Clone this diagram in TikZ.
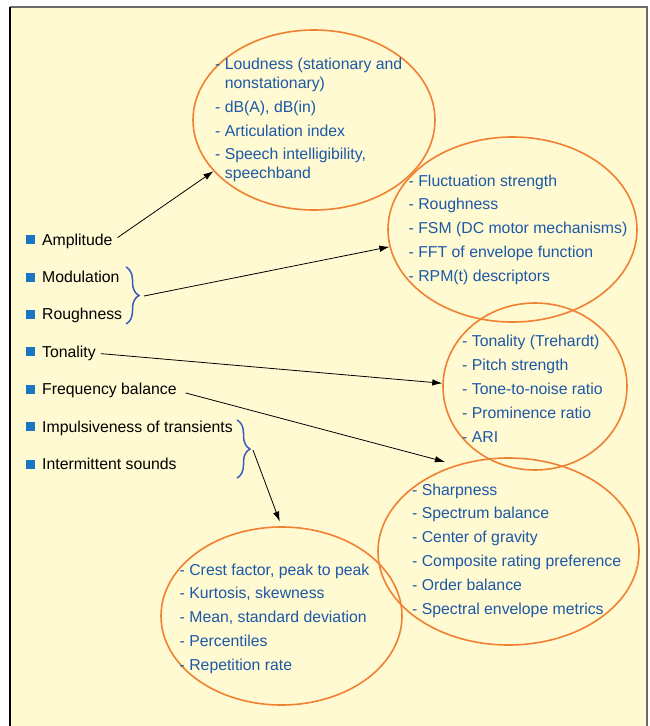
\documentclass[tikz,border=0pt]{standalone}
\usepackage{fontspec}
\setmainfont{Liberation Sans}
\usetikzlibrary{shapes.geometric, arrows.meta, positioning, decorations.pathreplacing}
\definecolor{panelbg}{RGB}{255,250,210}
\definecolor{framegray}{RGB}{105,105,105}
\definecolor{listblue}{RGB}{28,88,168}
\definecolor{bulletblue}{RGB}{25,118,195}
\definecolor{braceblue}{RGB}{58,92,190}
\definecolor{ovalorange}{RGB}{240,128,50}
\newcommand{\sqbullet}{\textcolor{bulletblue}{\rule[0.8pt]{9pt}{9pt}}\hspace{7pt}}

\begin{document}
\begin{tikzpicture}[
  x=1pt, y=-1pt,
  font=\fontsize{15.8}{23.8}\selectfont,
  item/.style={anchor=west, inner sep=0pt, text height=11.5pt, text depth=3.5pt},
  oval/.style={draw=ovalorange, line width=1.6pt, ellipse, inner sep=0pt},
  metrics/.style={anchor=north west, inner sep=0pt, align=left, text=listblue},
  brace/.style={draw=braceblue, line width=1.5pt, decorate, decoration={brace, amplitude=13pt}},
  arr/.style={-{Latex[length=10pt, width=6.5pt]}, line width=0.8pt},
]
\useasboundingbox (0,0) rectangle (649,726);
\fill[panelbg] (10,7) rectangle (647,726);
\draw[framegray, line width=1.8pt] (10,7) -- (647,7) -- (647,726);
\draw[black, line width=1.3pt] (10,726) -- (10,7);

\node[oval, minimum width=242pt, minimum height=180pt] (e1) at (314,120) {};
\node[oval, minimum width=249pt, minimum height=185pt] (e2) at (512.5,229.5) {};
\node[oval, minimum width=184pt, minimum height=167pt] (e3) at (535,386.5) {};
\node[oval, minimum width=261pt, minimum height=187pt] (e4) at (508.5,551.5) {};
\node[oval, minimum width=241pt, minimum height=178pt] (e5) at (281.5,616) {};

\node[metrics] (m1) at (215,52.6) {\strut- Loudness (stationary and\\[-4.8pt]\hphantom{- }nonstationary)\\- dB(A), dB(in)\\- Articulation index\\- Speech intelligibility,\\[-4.8pt]\hphantom{- }speechband};
\node[metrics] (m2) at (408.5,169.3) {\strut- Fluctuation strength\\- Roughness\\- FSM (DC motor mechanisms)\\- FFT of envelope function\\- RPM(t) descriptors};
\node[metrics] (m3) at (462,330) {\strut- Tonality (Trehardt)\\- Pitch strength\\- Tone-to-noise ratio\\- Prominence ratio\\- ARI};
\node[metrics] (m4) at (412,478.3) {\strut- Sharpness\\- Spectrum balance\\- Center of gravity\\- Composite rating preference\\- Order balance\\- Spectral envelope metrics};
\node[metrics] (m5) at (179.5,558.3) {\strut- Crest factor, peak to peak\\- Kurtosis, skewness\\- Mean, standard deviation\\- Percentiles\\- Repetition rate};

\node[item] (amp) at (26,241) {\sqbullet Amplitude};
\node[item, below=22pt of amp.south west, anchor=north west] (mod) {\sqbullet Modulation};
\node[item, below=22pt of mod.south west, anchor=north west] (rough) {\sqbullet Roughness};
\node[item, below=22pt of rough.south west, anchor=north west] (ton) {\sqbullet Tonality};
\node[item, below=22pt of ton.south west, anchor=north west] (fb) {\sqbullet Frequency balance};
\node[item, below=22pt of fb.south west, anchor=north west] (imp) {\sqbullet Impulsiveness of transients};
\node[item, below=22pt of imp.south west, anchor=north west] (inter) {\sqbullet Intermittent sounds};

\draw[brace] (126,267) -- (126,324);
\draw[brace] (237,420) -- (237,478);
\coordinate (b1) at (144,296);
\coordinate (b2) at (253,450);

\draw[arr, shorten <=6pt] (amp.east) -- (e1.207);
\draw[arr] (b1) -- (e2.188);
\draw[arr, shorten <=5pt] (ton.east) -- (e3.178);
\draw[arr, shorten <=9pt, shorten >=12pt] (fb.east) -- (e4.121);
\draw[arr, shorten >=5pt] (b2) -- (e5.north);
\end{tikzpicture}
\end{document}
